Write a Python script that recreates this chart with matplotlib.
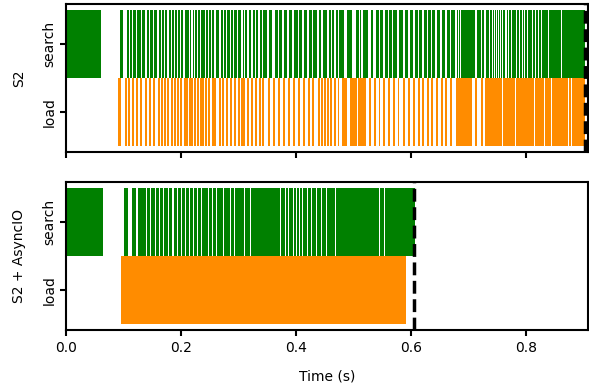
import matplotlib
matplotlib.use("Agg")
import matplotlib.pyplot as plt

# Intervals in milliseconds: (start, end)
s2_search = [
    (0, 62), (94.2, 99.4), (106.4, 110.4), (111.6, 115.6), (116.8, 122.5), (123.7, 130.6),
    (132.4, 137.6), (141.1, 145.1), (146.3, 152.0), (153.2, 158.9), (161.9, 165.9),
    (167.1, 171.1), (172.3, 176.3), (179.2, 183.2), (184.4, 188.4), (189.6, 193.6),
    (194.8, 198.8), (200.0, 204.0), (206.9, 213.9), (215.6, 217.9), (221.1, 223.2),
    (224.4, 227.8), (229.6, 233.6), (234.8, 242.2), (243.5, 247.4), (248.7, 252.7),
    (253.9, 258.5), (260.8, 266.5), (269.5, 273.5), (274.7, 278.7), (280.6, 285.1),
    (287.2, 291.2), (292.4, 298.5), (300.2, 304.2), (307.7, 309.9), (311.1, 315.1),
    (318.1, 322.1), (325.0, 328.5), (330.2, 333.7), (337.1, 340.6), (342.3, 349.3),
    (352.8, 358.0), (363.2, 368.4), (370.1, 375.3), (378.8, 384.0), (387.5, 392.7),
    (396.1, 403.1), (404.8, 410.0), (413.5, 418.7), (422.2, 427.4), (429.1, 436.1),
    (439.5, 443.0), (446.5, 453.4), (456.9, 460.3), (462.1, 465.5), (469.0, 472.5),
    (475.9, 479.4), (481.1, 484.6), (488.1, 493.3), (495.0, 498.5), (502.0, 503.5),
    (504.3, 505.8), (506.2, 507.7), (508.1, 509.6), (512.4, 514.1), (515.9, 519.4),
    (521.1, 526.3), (529.8, 535.0), (538.5, 543.7), (547.1, 552.3), (555.8, 561.0),
    (562.7, 567.9), (569.7, 576.6), (580.1, 587.0), (590.5, 595.7), (599.2, 604.4),
    (607.9, 613.1), (614.8, 620.0), (623.5, 628.7), (630.4, 635.6), (637.3, 642.5),
    (646.0, 651.2), (654.7, 659.9), (663.4, 668.6), (670.3, 677.3), (680.5, 682.7),
    (684.0, 686.2), (687.5, 689.7), (691.0, 693.2), (694.5, 696.7), (698.0, 700.2),
    (701.5, 703.7), (705.0, 707.2), (708.4, 711.9), (715.4, 722.3), (724.1, 727.5),
    (731.0, 736.2), (738.0, 741.4), (743.0, 745.2), (746.5, 748.7), (750.0, 752.2),
    (753.5, 755.7), (757.0, 759.2), (760.5, 764.0), (767.3, 769.5), (770.9, 774.4),
    (776.1, 783.1), (784.8, 788.3), (790.0, 793.5), (795.3, 797.3), (798.8, 802.2),
    (804.0, 810.9), (812.6, 816.1), (817.8, 821.3), (823.1, 826.5), (828.3, 838.7),
    (840.4, 861.2), (862.9, 903.0),
]

s2_load = [
    (90.8, 96.0), (102.9, 106.4), (108.1, 111.6), (115.0, 118.5), (122.0, 125.5),
    (128.9, 132.4), (137.6, 141.1), (144.5, 148.0), (151.5, 154.9), (160.2, 163.6),
    (165.4, 168.8), (170.6, 174.0), (175.8, 179.2), (182.7, 186.2), (187.9, 191.4),
    (193.1, 196.6), (198.3, 201.8), (205.3, 212.2), (214.0, 220.9), (222.6, 226.1),
    (227.8, 231.3), (233.0, 240.0), (241.7, 245.2), (246.9, 250.4), (253.9, 260.8),
    (266.0, 269.5), (271.2, 274.7), (278.2, 281.6), (285.1, 288.6), (292.0, 295.5),
    (299.0, 302.4), (304.2, 311.1), (314.6, 318.1), (321.6, 325.0), (328.5, 332.0),
    (335.4, 338.9), (340.6, 344.1), (351.0, 354.5), (359.7, 363.2), (368.4, 371.9),
    (377.1, 380.6), (385.8, 389.2), (394.5, 397.9), (403.1, 406.6), (411.8, 415.3),
    (420.5, 424.0), (427.4, 430.9), (437.8, 441.3), (443.0, 446.5), (448.2, 451.7),
    (453.4, 456.9), (458.6, 462.1), (465.5, 469.0), (472.5, 475.9), (479.4, 482.9),
    (484.6, 488.1), (493.3, 496.8), (498.5, 505.5), (507.2, 522.8), (528.0, 531.5),
    (536.7, 540.2), (543.7, 547.1), (552.3, 555.8), (561.0, 564.5), (569.7, 573.1),
    (578.3, 580.1), (587.0, 590.5), (595.7, 599.2), (604.4, 607.9), (613.1, 616.6),
    (620.0, 623.5), (628.7, 632.2), (635.6, 639.1), (644.3, 647.8), (653.0, 656.5),
    (659.9, 663.4), (668.6, 672.1), (679.0, 706.8), (712.1, 715.5), (722.3, 725.8),
    (729.3, 758.8), (760.5, 781.3), (783.1, 814.3), (816.1, 831.7), (833.5, 843.9),
    (845.6, 873.4), (875.1, 878.6), (880.3, 902.8),
]

async_search = [
    (0, 64.7), (101.3, 108.1), (115.0, 122.0), (125.5, 139.3), (141.1, 146.3),
    (148.0, 155.0), (156.7, 161.9), (163.6, 168.8), (170.6, 177.5), (179.2, 184.4),
    (187.9, 193.1), (194.8, 200.0), (201.8, 207.0), (208.7, 213.9), (215.6, 220.9),
    (222.6, 227.8), (229.6, 234.8), (236.5, 246.9), (248.7, 253.9), (255.6, 260.8),
    (262.5, 273.0), (274.7, 285.1), (286.8, 292.0), (293.8, 309.4), (311.1, 320.7),
    (322.4, 338.9), (340.3, 371.9), (373.6, 381.7), (383.1, 387.0), (388.3, 395.6),
    (397.0, 400.8), (402.2, 406.0), (407.4, 411.2), (412.6, 418.7), (420.5, 426.2),
    (427.9, 434.8), (436.4, 443.0), (444.7, 452.2), (453.8, 467.8), (469.4, 545.4),
    (547.1, 554.1), (555.8, 607.3),
]

async_load = [(96.0, 591.7)]

s2_total = 903.0
async_total = 606.0

panels = [
    ("S2", s2_search, s2_load, s2_total),
    ("S2 + AsyncIO", async_search, async_load, async_total),
]

GREEN = "#008000"
ORANGE = "#ff8c00"

plt.rcParams["axes.linewidth"] = 1.5
plt.rcParams["xtick.major.width"] = 1.5
plt.rcParams["ytick.major.width"] = 1.5
plt.rcParams["xtick.major.size"] = 4.5
plt.rcParams["ytick.major.size"] = 4.5

fig = plt.figure(figsize=(5.89, 3.91), dpi=100)
ax_top = fig.add_axes([0.1115, 0.611, 0.8865, 0.379])
ax_bot = fig.add_axes([0.1115, 0.156, 0.8865, 0.379], sharex=ax_top)

for ax, (name, search, load, total) in zip([ax_top, ax_bot], panels):
    ax.broken_barh([(s / 1000, (e - s) / 1000) for s, e in search], (0.5, 1),
                   facecolors=GREEN, linewidth=0)
    ax.broken_barh([(s / 1000, (e - s) / 1000) for s, e in load], (-0.5, 1),
                   facecolors=ORANGE, linewidth=0)
    ax.axvline(total / 1000, color="black", linestyle="--", linewidth=2.5)
    ax.set_ylim(-0.59, 1.59)
    ax.set_yticks([0, 1])
    ax.set_yticklabels(["load", "search"], rotation=90, va="center")
    ax.tick_params(axis="y", pad=2)
    ax.set_ylabel(name, labelpad=12)
    ax.set_xlim(0, 0.9075)

ax_top.tick_params(labelbottom=False)
ax_bot.set_xlabel("Time (s)", labelpad=10)

fig.savefig("out.png", dpi=100)
